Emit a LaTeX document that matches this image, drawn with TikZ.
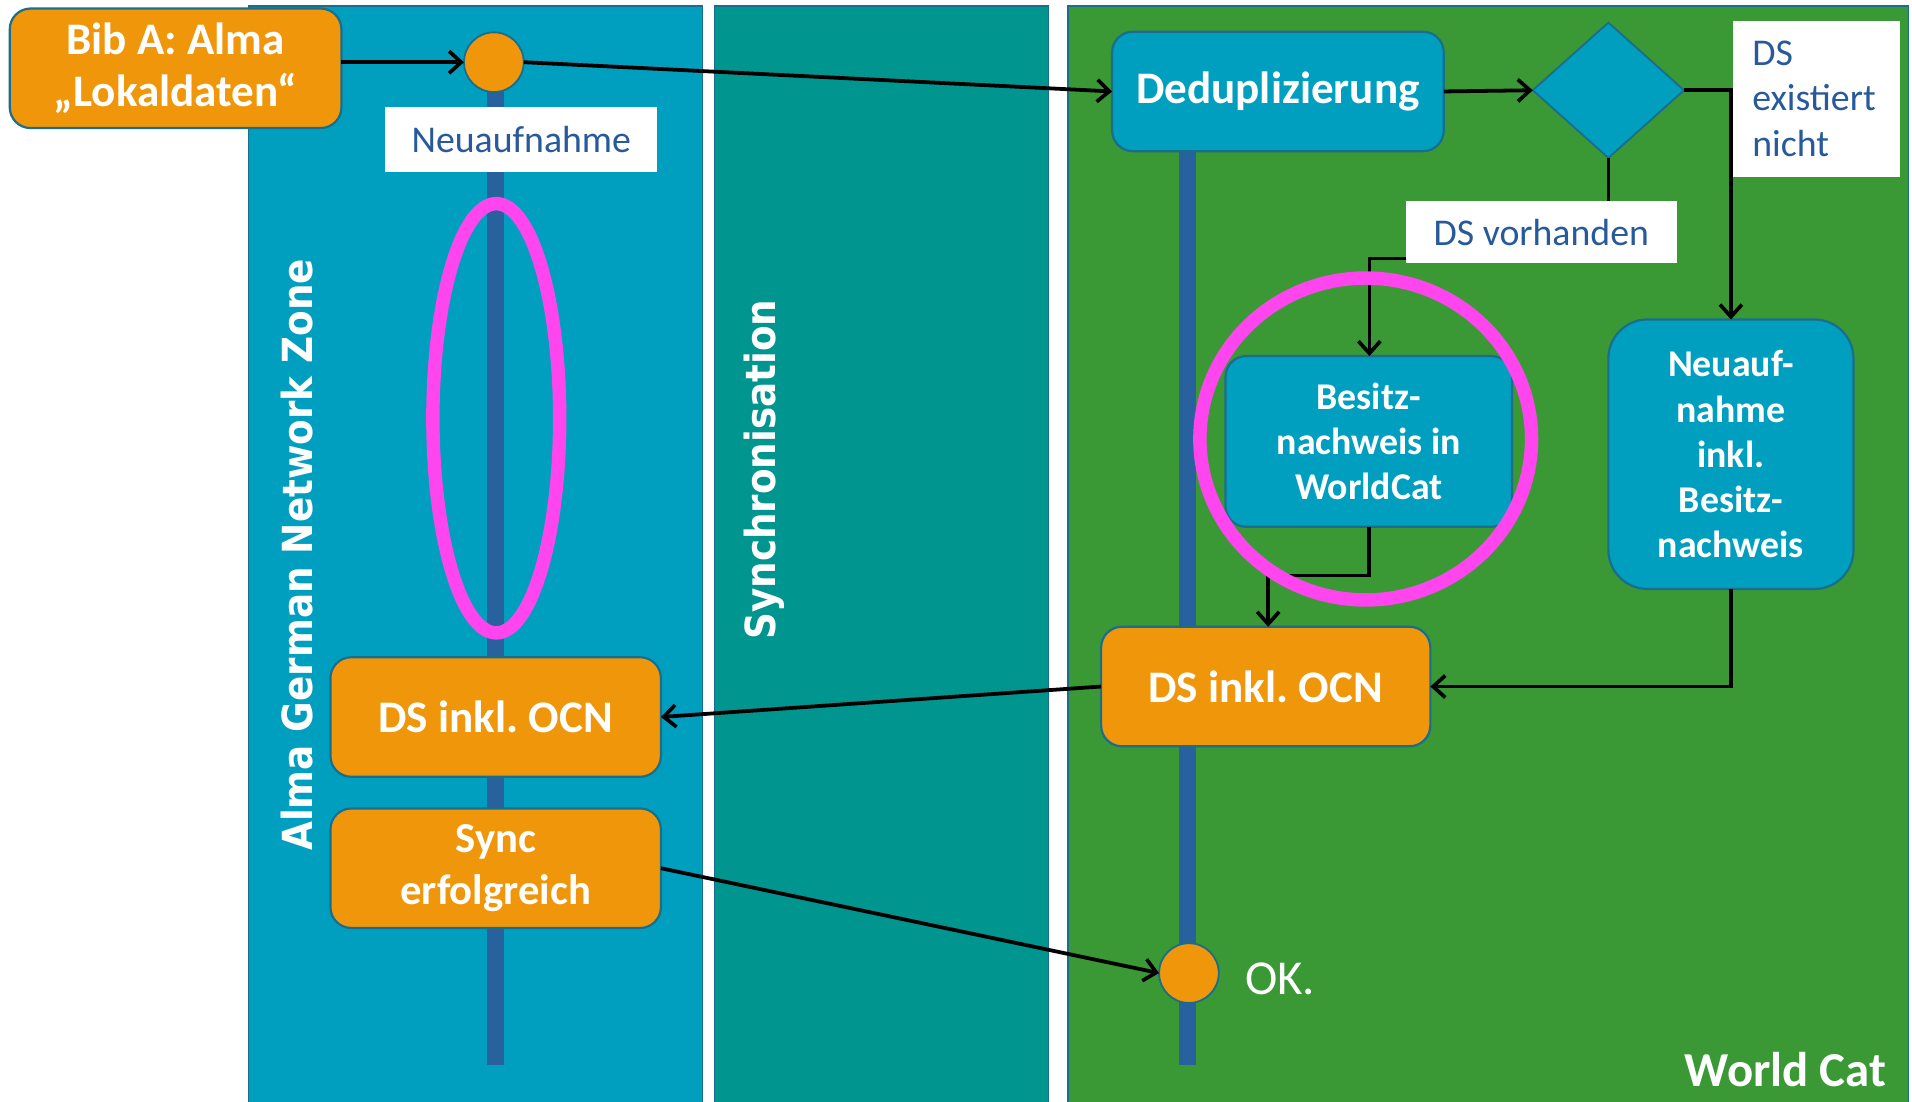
\documentclass[tikz,border=0pt]{standalone}
\usepackage{fontspec}
\setmainfont{Carlito}
\newfontfamily\vfont{DejaVu Sans Condensed}[BoldFont={DejaVu Sans Condensed Bold}]
\usetikzlibrary{arrows.meta,shapes.geometric,calc}
\definecolor{laneA}{RGB}{0,159,191}
\definecolor{laneB}{RGB}{0,150,143}
\definecolor{laneC}{RGB}{58,153,53}
\definecolor{tealbox}{RGB}{0,159,191}
\definecolor{orangebox}{RGB}{240,150,10}
\definecolor{borderc}{RGB}{25,110,140}
\definecolor{lifec}{RGB}{40,98,158}
\definecolor{ringc}{RGB}{255,70,238}
\definecolor{lblblue}{RGB}{40,90,155}
\begin{document}
\frenchspacing
\begin{tikzpicture}[x=1pt,y=-1pt,
  lane/.style={draw=borderc,line width=1.2pt},
  basebox/.style={draw=borderc,line width=1.8pt,rounded corners=17pt,text=white,align=center,inner sep=0pt,outer sep=0pt},
  obox/.style={basebox,fill=orangebox},
  tbox/.style={basebox,fill=tealbox},
  bigtxt/.style={font=\bfseries\fontsize{37}{43}\selectfont},
  midtxt/.style={font=\bfseries\fontsize{31}{37}\selectfont},
  dot/.style={circle,fill=orangebox,draw=borderc,line width=1.5pt,minimum size=49pt,inner sep=0pt,outer sep=0pt},
  lbl/.style={fill=white,text=lblblue,font=\fontsize{31}{37}\selectfont,inner sep=0pt,outer sep=0pt},
  arr/.style={-{Straight Barb[length=10pt,width=18pt,line width=3pt]},line width=3.1pt,black},
  life/.style={lifec,line width=14pt},
  ring/.style={ringc,line width=11pt},
  lanetitle/.style={text=white,font=\vfont\bfseries\fontsize{34}{40}\selectfont,inner sep=0pt}
]
\useasboundingbox[fill=white] (0,0) rectangle (1568,903);
% lanes
\fill[laneA,lane] (204,5) rectangle (576,910);
\fill[laneB,lane] (586,5) rectangle (860,910);
\fill[laneC,lane] (876,5) rectangle (1565,910);
\node[lanetitle,rotate=90] (zoneA) at (244,455) {Alma German Network Zone};
\node[lanetitle,rotate=90] (zoneB) at (627,385) {Synchronisation};
\node[text=white,font=\bfseries\fontsize{40}{46}\selectfont,anchor=east,inner sep=0pt] (zoneC) at (1547,877) {World Cat};
% lifelines
\coordinate (la) at (406,60);
\coordinate (lae) at (406,873);
\coordinate (lb) at (974,110);
\coordinate (lbe) at (974,873);
\draw[life] (la) -- (lae);
\draw[life] (lb) -- (lbe);
% nodes
\node[obox,bigtxt,minimum width=272pt,minimum height=98pt] (bib) at (144,56) {Bib A: Alma\\„Lokaldaten“};
\node[dot] (c1) at (405,51) {};
\node[obox,bigtxt,minimum width=271pt,minimum height=98pt] (ds1) at (406.5,588) {DS inkl. OCN};
\node[obox,bigtxt,minimum width=271pt,minimum height=98pt,font=\bfseries\fontsize{35}{42}\selectfont] (sync) at (406.5,712) {Sync\\erfolgreich};
\node[tbox,bigtxt,minimum width=272pt,minimum height=98pt] (dedup) at (1048,75) {Deduplizierung};
\node[diamond,fill=tealbox,draw=borderc,line width=1.5pt,minimum width=124pt,minimum height=111pt,inner sep=0pt,outer sep=0pt,aspect=1.12] (dia) at (1319,74) {};
\node[tbox,midtxt,minimum width=235pt,minimum height=140pt] (besitz) at (1122.5,362) {Besitz-\\nachweis in\\WorldCat};
\node[tbox,midtxt,rounded corners=32pt,minimum width=201pt,minimum height=221pt] (neuauf) at (1419.5,372.5) {Neuauf-\\nahme\\inkl.\\Besitz-\\nachweis};
\node[obox,bigtxt,minimum width=270pt,minimum height=98pt] (ds3) at (1038,563) {DS inkl. OCN};
\node[dot] (ok) at (975,798) {};
\node[text=white,font=\fontsize{40}{46}\selectfont,anchor=west,inner sep=0pt] (oktxt) at (1021,803) {OK.};
% connectors
\coordinate (vk) at (1123,212);
\coordinate (bk) at (1040,472);
\draw[arr] (bib.east |- c1.west) -- (c1.west);
\draw[arr] (c1.east) -- (dedup.west);
\draw[arr] (dedup.east) -- (dia.west);
\draw[arr] (dia.east) -| (neuauf.north);
\draw[arr] (dia.south) |- (vk) -- (vk |- besitz.north);
\draw[arr] (besitz.south) |- (bk) -- (bk |- ds3.north);
\draw[arr] (neuauf.south) |- (ds3.east);
\draw[arr] (ds3.west) -- (ds1.east);
\draw[arr] (sync.east) -- (ok.west);
% labels
\node[lbl,minimum width=223pt,minimum height=53pt] (lneu) at (427.5,114.5) {Neuaufnahme};
\node[lbl,minimum width=137pt,minimum height=128pt,text width=105pt,align=left,inner xsep=16pt,anchor=north west] (lex) at (1421,17) {DS\\existiert\\nicht};
\node[lbl,minimum width=222pt,minimum height=51pt] (lvor) at (1264,190.5) {DS vorhanden};
% highlight rings
\draw[ring] (407,343) ellipse [x radius=52, y radius=176];
\draw[ring] (1120,360) ellipse [x radius=136, y radius=132];
\end{tikzpicture}
\end{document}
